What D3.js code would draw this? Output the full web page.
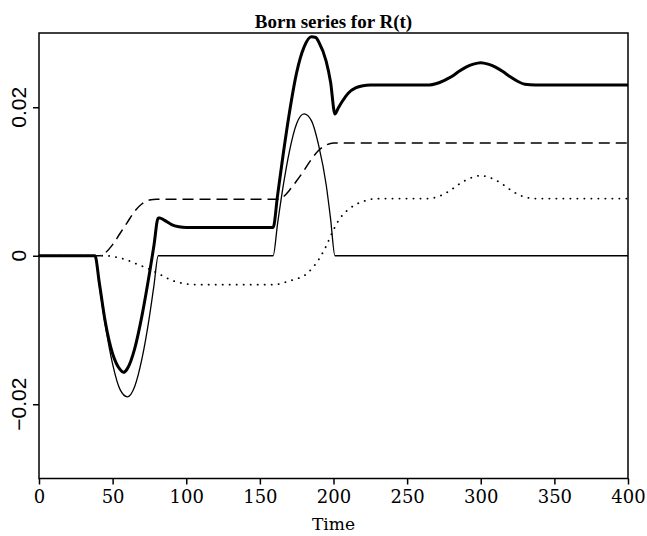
<!DOCTYPE html>
<html>
<head>
<meta charset="utf-8">
<script src="https://cdn.jsdelivr.net/npm/d3@7"></script>
<style>
  body { margin: 0; background: #fff; }
</style>
</head>
<body>
<div id="chart"></div>
<script>
// values (time, R)
var thinT = [0, 38, 41, 45, 50, 55, 60, 65, 70, 75, 78, 81, 159, 162, 166, 170, 175, 180, 185, 190, 195, 198, 201, 400];
var thinV = [0, 0, -0.0041, -0.0093, -0.0146, -0.018, -0.019, -0.0176, -0.0138, -0.0082, -0.0041, 0,
             0, 0.0043, 0.0096, 0.014, 0.0178, 0.0191, 0.0182, 0.0148, 0.0096, 0.005, 0, 0];

var dashT = [0, 41, 45, 50, 55, 60, 65, 70, 75, 80, 162, 165, 170, 175, 180, 185, 190, 195, 200, 205, 400];
var dashV = [0, 0, 0.0004, 0.0015, 0.003, 0.0045, 0.006, 0.007, 0.0075, 0.0076,
             0.0076, 0.0078, 0.0088, 0.0101, 0.0115, 0.013, 0.0142, 0.0149, 0.0152, 0.0152, 0.0152];

var dotT = [0, 45, 50, 55, 60, 65, 70, 75, 80, 85, 90, 95, 100, 110, 160, 165, 170, 175, 180, 185, 190, 195,
            200, 205, 210, 215, 220, 225, 232, 265, 270, 275, 280, 285, 290, 295, 300, 305, 310, 315, 320,
            325, 330, 337, 400];
var dotV = [0, 0, -0.0001, -0.0003, -0.0006, -0.001, -0.0014, -0.0018, -0.0023, -0.0028, -0.0033, -0.0036,
            -0.0038, -0.0039, -0.0039, -0.0037, -0.0034, -0.0031, -0.0027, -0.0018, -0.0005, 0.0013,
            0.0035, 0.0052, 0.0062, 0.0069, 0.0073, 0.0076, 0.0077, 0.0077, 0.0079, 0.0083, 0.0089, 0.0096,
            0.0102, 0.0106, 0.0108, 0.0106, 0.0102, 0.0096, 0.0089, 0.0083, 0.0079, 0.0077, 0.0077];

var boldT = [0, 38, 41, 45, 50, 55, 57.5, 60, 65, 70, 75, 78, 81, 82, 85, 90, 95, 100, 159, 162, 166, 170, 175,
             180, 185, 188, 190, 195, 198, 201, 203, 206, 210, 215, 220, 225, 265, 270, 275, 280, 285, 290,
             295, 300, 305, 310, 315, 320, 325, 330, 337, 400];
var boldV = [0, 0, -0.0037, -0.0089, -0.0132, -0.0153, -0.0157, -0.0152, -0.0125, -0.008, -0.0024, 0.0013,
             0.0051, 0.0051, 0.0048, 0.0042, 0.0039, 0.0038, 0.0038, 0.0081, 0.0139, 0.0192, 0.0247, 0.0281,
             0.0295, 0.0294, 0.0288, 0.0262, 0.0234, 0.0191, 0.0198, 0.0208, 0.0219, 0.0226, 0.0229, 0.023,
             0.023, 0.0232, 0.0236, 0.0241, 0.0248, 0.0254, 0.0258, 0.026, 0.0258, 0.0254, 0.0248, 0.0241,
             0.0235, 0.0231, 0.023, 0.023];

var xTicks = [0, 50, 100, 150, 200, 250, 300, 350, 400];
var yTicks = [-0.02, 0, 0.02];
var yTickLabels = ["\u22120.02", "0", "0.02"];

var W = 647, H = 536;
var margin = {top: 33, right: 19, bottom: 57.5, left: 39};
var plotL = margin.left, plotR = W - margin.right,
    plotT = margin.top, plotB = H - margin.bottom;

var svg = d3.select("#chart")
    .append("svg")
    .attr("width", W)
    .attr("height", H);

var x = d3.scaleLinear()
    .domain([0, 400])
    .range([plotL, plotR]);

var y = d3.scaleLinear()
    .domain([-0.03, 0.03])
    .range([plotB, plotT]);

function pts(t, v) {
    return t.map(function (d, i) { return [d, v[i]]; });
}

var line = d3.line()
    .x(function (d) { return x(d[0]); })
    .y(function (d) { return y(d[1]); })
    .curve(d3.curveMonotoneX);

// curves
svg.append("path")
    .attr("d", line(pts(dotT, dotV)))
    .attr("fill", "none")
    .attr("stroke", "#000")
    .attr("stroke-width", 1.8)
    .attr("stroke-linecap", "round")
    .attr("stroke-dasharray", "0.2,6.8");

svg.append("path")
    .attr("d", line(pts(dashT, dashV)))
    .attr("fill", "none")
    .attr("stroke", "#000")
    .attr("stroke-width", 1.5)
    .attr("stroke-dasharray", "11,6");

svg.append("path")
    .attr("d", line(pts(thinT, thinV)))
    .attr("fill", "none")
    .attr("stroke", "#000")
    .attr("stroke-width", 1.3);

svg.append("path")
    .attr("d", line(pts(boldT, boldV)))
    .attr("fill", "none")
    .attr("stroke", "#000")
    .attr("stroke-width", 3)
    .attr("stroke-linejoin", "round");

// frame
svg.append("rect")
    .attr("x", plotL)
    .attr("y", plotT)
    .attr("width", plotR - plotL)
    .attr("height", plotB - plotT)
    .attr("fill", "none")
    .attr("stroke", "#000")
    .attr("stroke-width", 1.5);

// x axis
var xAxis = svg.append("g")
    .attr("transform", "translate(0," + plotB + ")")
    .call(d3.axisBottom(x).tickValues(xTicks).tickSize(6).tickPadding(6).tickFormat(d3.format("d")));
xAxis.select(".domain").remove();
xAxis.selectAll("line").attr("stroke-width", 1.5);
xAxis.selectAll("text")
    .attr("font-family", "'DejaVu Serif', serif")
    .attr("font-size", 18)
    .attr("fill", "#000");

// y axis
var yAxis = svg.append("g")
    .attr("transform", "translate(" + plotL + ",0)")
    .call(d3.axisLeft(y).tickValues(yTicks).tickSize(6).tickFormat(""));
yAxis.select(".domain").remove();
yAxis.selectAll("line").attr("stroke-width", 1.5);

svg.selectAll(".ylab")
    .data(yTicks)
    .enter()
    .append("text")
    .attr("class", "ylab")
    .attr("transform", function (d) { return "translate(26," + y(d) + ") rotate(-90)"; })
    .attr("text-anchor", "middle")
    .attr("font-family", "'Liberation Sans', Arial, sans-serif")
    .attr("font-size", 21)
    .text(function (d, i) { return yTickLabels[i]; });

// titles
svg.append("text")
    .attr("x", (plotL + plotR) / 2)
    .attr("y", 28)
    .attr("text-anchor", "middle")
    .attr("font-family", "'Liberation Serif', serif")
    .attr("font-weight", "bold")
    .attr("font-size", 19)
    .text("Born series for R(t)");

svg.append("text")
    .attr("x", (plotL + plotR) / 2)
    .attr("y", 530)
    .attr("text-anchor", "middle")
    .attr("font-family", "'DejaVu Serif', serif")
    .attr("font-size", 17)
    .text("Time");
</script>
</body>
</html>
